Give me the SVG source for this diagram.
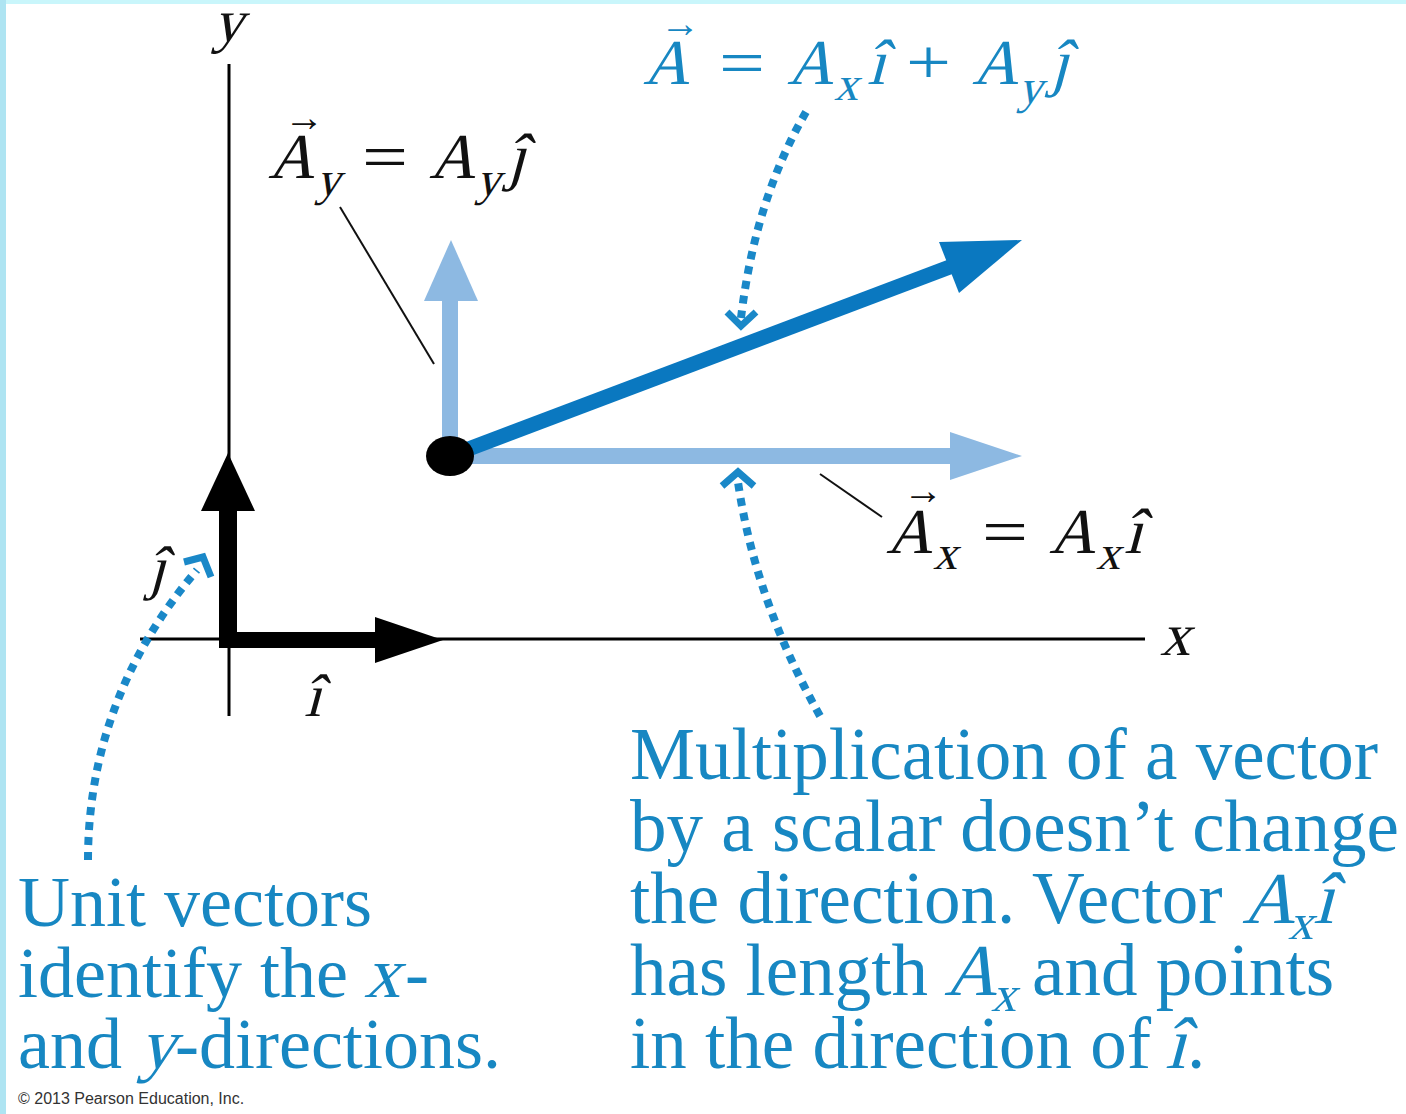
<svg xmlns="http://www.w3.org/2000/svg" width="1406" height="1114" viewBox="0 0 1406 1114">
  <defs>
    <style>
      text { font-family: "Liberation Serif", "Times New Roman", serif; }
      .m { font-size: 64px; }
      .s { font-size: 48px; }
      .ax { font-size: 60px; }
      .acc { font-size: 40px; }
      .blk { fill: #111; }
      .blu { fill: #1787c2; }
      .para { font-size: 73px; fill: #1787c2; }
      .psub { font-size: 50px; fill: #1787c2; }
      .paraL { font-size: 72px; fill: #1787c2; }
      .dots { fill: none; stroke: #1a88c8; stroke-width: 8; stroke-dasharray: 8 7; }
      .chev { fill: none; stroke: #1a88c8; stroke-width: 7; stroke-linejoin: miter; }
      .leader { stroke: #111; stroke-width: 2; }
    </style>
  </defs>

  <!-- background -->
  <rect x="0" y="0" width="1406" height="1114" fill="#ffffff"/>
  <rect x="0" y="0" width="1406" height="4" fill="#c9f6fb"/>
  <rect x="0" y="0" width="6" height="1114" fill="#aee4f2"/>

  <!-- axes -->
  <g id="axes">
    <line x1="229" y1="64" x2="229" y2="716" stroke="#000" stroke-width="3"/>
    <line x1="140" y1="639" x2="1145" y2="639" stroke="#000" stroke-width="3"/>
    <text class="ax blk" transform="translate(213,41) skewX(-15)">y</text>
    <text class="ax blk" transform="translate(1160,655) skewX(-15)">x</text>
  </g>

  <!-- unit vectors -->
  <g id="unit-j">
    <rect x="219" y="508" width="18" height="140" fill="#000"/>
    <polygon points="201,511 255,511 228,453" fill="#000"/>
    <text class="ax blk" transform="translate(148,588) skewX(-15)">ĵ</text>
  </g>
  <g id="unit-i">
    <rect x="219" y="632" width="158" height="16" fill="#000"/>
    <polygon points="375,617 375,663 443,640" fill="#000"/>
    <text class="ax blk" transform="translate(304,716) skewX(-15)">î</text>
  </g>

  <!-- component vectors -->
  <g id="vector-Ay">
    <rect x="442" y="298" width="16" height="158" fill="#8db9e2"/>
    <polygon points="424,301 478,301 451,240" fill="#8db9e2"/>
  </g>
  <g id="vector-Ax">
    <rect x="450" y="448" width="502" height="16" fill="#8db9e2"/>
    <polygon points="950,432 950,480 1022,456" fill="#8db9e2"/>
  </g>
  <g id="vector-A">
    <line x1="450" y1="456" x2="955" y2="265" stroke="#0a78c0" stroke-width="15"/>
    <polygon points="1022,240 939,242 959,293" fill="#0a78c0"/>
  </g>
  <g id="origin-dot">
    <ellipse cx="450" cy="456" rx="24" ry="20" fill="#000"/>
  </g>

  <!-- labels -->
  <g id="label-A">
    <text class="acc blu" x="660" y="37">→</text>
    <text class="m blu" transform="translate(643,84) skewX(-15)">A</text>
    <text class="m blu" x="719" y="84" textLength="46" lengthAdjust="spacingAndGlyphs">=</text>
    <text class="m blu" transform="translate(787,84) skewX(-15)">A</text>
    <text class="s blu" transform="translate(834,100) skewX(-15)">x</text>
    <text class="m blu" transform="translate(867,84) skewX(-15)">î</text>
    <text class="m blu" x="906" y="84" textLength="45" lengthAdjust="spacingAndGlyphs">+</text>
    <text class="m blu" transform="translate(972,84) skewX(-15)">A</text>
    <text class="s blu" transform="translate(1018,103) skewX(-15)">y</text>
    <text class="m blu" transform="translate(1050,84) skewX(-15)">ĵ</text>
  </g>
  <g id="label-Ay">
    <text class="acc blk" x="284" y="131">→</text>
    <text class="m blk" transform="translate(268,178) skewX(-15)">A</text>
    <text class="s blk" transform="translate(316,195) skewX(-15)">y</text>
    <text class="m blk" x="362" y="178" textLength="46" lengthAdjust="spacingAndGlyphs">=</text>
    <text class="m blk" transform="translate(429,178) skewX(-15)">A</text>
    <text class="s blk" transform="translate(476,195) skewX(-15)">y</text>
    <text class="m blk" transform="translate(507,178) skewX(-15)">ĵ</text>
  </g>
  <g id="label-Ax">
    <text class="acc blk" x="903" y="504">→</text>
    <text class="m blk" transform="translate(886,553) skewX(-15)">A</text>
    <text class="s blk" transform="translate(933,569) skewX(-15)">x</text>
    <text class="m blk" x="982" y="553" textLength="46" lengthAdjust="spacingAndGlyphs">=</text>
    <text class="m blk" transform="translate(1049,553) skewX(-15)">A</text>
    <text class="s blk" transform="translate(1096,569) skewX(-15)">x</text>
    <text class="m blk" transform="translate(1124,553) skewX(-15)">î</text>
  </g>

  <!-- connectors -->
  <g id="connectors">
    <line class="leader" x1="340" y1="207" x2="434" y2="364"/>
    <line class="leader" x1="820" y1="474" x2="882" y2="517"/>
    <path class="dots" d="M806,112 Q755,200 741,318"/>
    <polyline class="chev" points="727,312 741,326 756,312"/>
    <path class="dots" d="M820,716 Q755,600 738,482"/>
    <polyline class="chev" points="722,486 738,472 754,486"/>
    <path class="dots" d="M88,860 C88,760 120,660 197,570"/>
    <polyline class="chev" points="184,562 203,557 211,577"/>
  </g>

  <!-- notes -->
  <g id="note-unit">
    <text class="paraL" x="18" y="926">Unit vectors</text>
    <text class="paraL" x="18" y="997">identify the</text>
    <text class="paraL" transform="translate(364,997) skewX(-15)">x</text>
    <text class="paraL" x="405" y="997">-</text>
    <text class="paraL" x="18" y="1068">and</text>
    <text class="paraL" transform="translate(139,1068) skewX(-15)">y</text>
    <text class="paraL" x="175" y="1068">-directions.</text>
  </g>
  <g id="note-scalar">
    <text class="para" x="630" y="779">Multiplication of a vector</text>
    <text class="para" x="630" y="851">by a scalar doesn’t change</text>
    <text class="para" x="630" y="923">the direction. Vector</text>
    <text class="para" transform="translate(1242,923) skewX(-15)">A</text>
    <text class="psub" transform="translate(1288,939) skewX(-15)">x</text>
    <text class="para" transform="translate(1313,923) skewX(-15)">î</text>
    <text class="para" x="630" y="995">has length</text>
    <text class="para" transform="translate(944,995) skewX(-15)">A</text>
    <text class="psub" transform="translate(991,1011) skewX(-15)">x</text>
    <text class="para" x="1032" y="995">and points</text>
    <text class="para" x="630" y="1068">in the direction of</text>
    <text class="para" transform="translate(1165,1068) skewX(-15)">î</text>
    <text class="para" x="1187" y="1068">.</text>
  </g>

  <text x="18" y="1104" style="font-family: 'Liberation Sans', Arial, sans-serif; font-size: 16px;" fill="#333">© 2013 Pearson Education, Inc.</text>
</svg>
